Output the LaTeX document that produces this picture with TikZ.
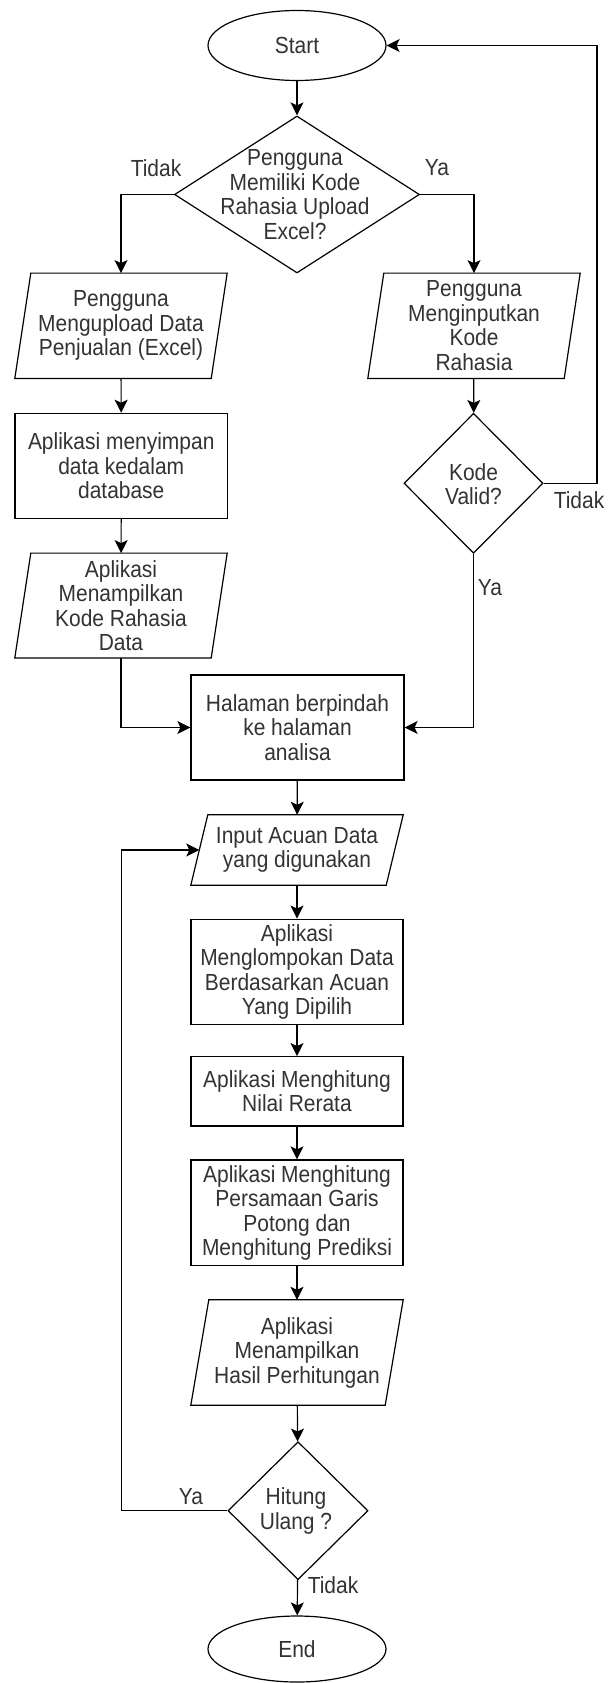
\documentclass[tikz,border=0pt]{standalone}
\usepackage{fontspec}
\setmainfont{Liberation Sans}[FakeStretch=0.9]
\usetikzlibrary{arrows.meta,shapes.geometric}
\definecolor{ink}{HTML}{333333}

% parallelogram outline around a (borderless) io node
\newcommand\ioframe[2]{%
  \draw[frame] ([xshift=#2pt]#1.north west) -- (#1.north east)
    -- ([xshift=-#2pt]#1.south east) -- (#1.south west) -- cycle;}

\tikzset{
  txt/.style={font=\fontsize{23.3pt}{24.5pt}\selectfont, text=ink, align=center},
  frame/.style={draw=black, line width=1.2pt},
  box/.style={txt, frame, fill=white, inner sep=0pt, minimum width=212pt, minimum height=105pt},
  io/.style={txt, inner sep=0pt, minimum width=212pt, minimum height=105pt},
  term/.style={txt, frame, ellipse, inner sep=0pt, minimum width=178pt, minimum height=70pt},
  decision/.style={frame, diamond, inner sep=0pt},
  arr/.style={draw=black, line width=1.2pt, -{Stealth[length=13pt,width=13pt,inset=3pt]}},
}

\begin{document}
\begin{tikzpicture}[x=1pt, y=-1pt]
  \fill[white] (0,0) rectangle (612,1683);
  \useasboundingbox (0,0) rectangle (612,1683);

  % guide coordinates for the two long loops
  \coordinate (back) at (597,0);
  \coordinate (loop) at (121.6,0);

  % terminals
  \node[term] (start) at (297,45.5) {Start};
  \node[term, minimum height=66pt] (end) at (297,1649) {End};

  % first decision
  \node[decision, minimum width=245pt, minimum height=157pt] (d1) at (297,194.5) {};
  \node[txt] (d1t) at (295,194.5) {Pengguna\\Memiliki Kode\\Rahasia Upload\\Excel?};

  % left branch
  \node[io] (p1) at (121,325.8) {Pengguna\\Mengupload Data\\Penjualan (Excel)};
  \ioframe{p1}{16}
  \node[box, minimum width=212.5pt] (r1) at (121.25,465.8) {Aplikasi menyimpan\\data kedalam\\database};
  \node[io, minimum height=104.4pt] (p3) at (121,605.5) {Aplikasi\\Menampilkan\\Kode Rahasia\\Data};
  \ioframe{p3}{16}

  % right branch
  \node[io] (p2) at (474,325.8) {Pengguna\\Menginputkan\\Kode\\Rahasia};
  \ioframe{p2}{16}
  \node[decision, minimum width=139pt, minimum height=140pt] (d2) at (473.5,483.3) {};
  \node[txt] (d2t) at (473.5,484) {Kode\\Valid?};

  % main column
  \node[box, minimum width=213pt] (r2) at (297.5,727.5) {Halaman berpindah\\ke halaman\\analisa};
  \node[io, minimum height=70pt] (p4) at (297,850) {Input Acuan Data\\yang digunakan};
  \ioframe{p4}{17}
  \node[box, minimum height=105.7pt] (r3) at (297,972) {Aplikasi\\Menglompokan Data\\Berdasarkan Acuan\\Yang Dipilih};
  \node[box, minimum height=69.3pt] (r4) at (297,1091.3) {Aplikasi Menghitung\\Nilai Rerata};
  \node[box, minimum height=105.7pt] (r5) at (297,1212.8) {Aplikasi Menghitung\\Persamaan Garis\\Potong dan\\Menghitung Prediksi};
  \node[io] (p5) at (297,1352.5) {Aplikasi\\Menampilkan\\Hasil Perhitungan};
  \ioframe{p5}{18}
  \node[decision, minimum width=140pt, minimum height=138pt] (d3) at (298,1510.7) {};
  \node[txt] (d3t) at (296,1511) {Hitung\\Ulang ?};

  % branch labels
  \node[txt] (l1) at (156,168) {Tidak};
  \node[txt] (l2) at (437,168) {Ya};
  \node[txt] (l3) at (579,500) {Tidak};
  \node[txt] (l4) at (490,588) {Ya};
  \node[txt] (l5) at (191,1497) {Ya};
  \node[txt] (l6) at (333,1585) {Tidak};

  % connectors
  \draw[arr] (start) -- (d1);
  \draw[arr] (d1.west) -| (p1.north);
  \draw[arr] (d1.east) -| (p2.north);
  \draw[arr] (p1) -- (r1);
  \draw[arr] (r1) -- (p3);
  \draw[arr] (p3.south) |- (r2.west);
  \draw[arr] (p2) -- (d2);
  \draw[arr] (d2.east) -- (d2.east -| back) -- (start.east -| back) -- (start.east);
  \draw[arr] (d2.south) |- (r2.east);
  \draw[arr] (r2) -- (p4);
  \draw[arr] (p4) -- (r3);
  \draw[arr] (r3) -- (r4);
  \draw[arr] (r4) -- (r5);
  \draw[arr] (r5) -- (p5);
  \draw[arr] (p5) -- (d3);
  \draw[arr] (d3.west) -- (d3.west -| loop) -- (p4.west -| loop) -- ([xshift=8.5pt]p4.west);
  \draw[arr] (d3) -- (end);
\end{tikzpicture}
\end{document}
